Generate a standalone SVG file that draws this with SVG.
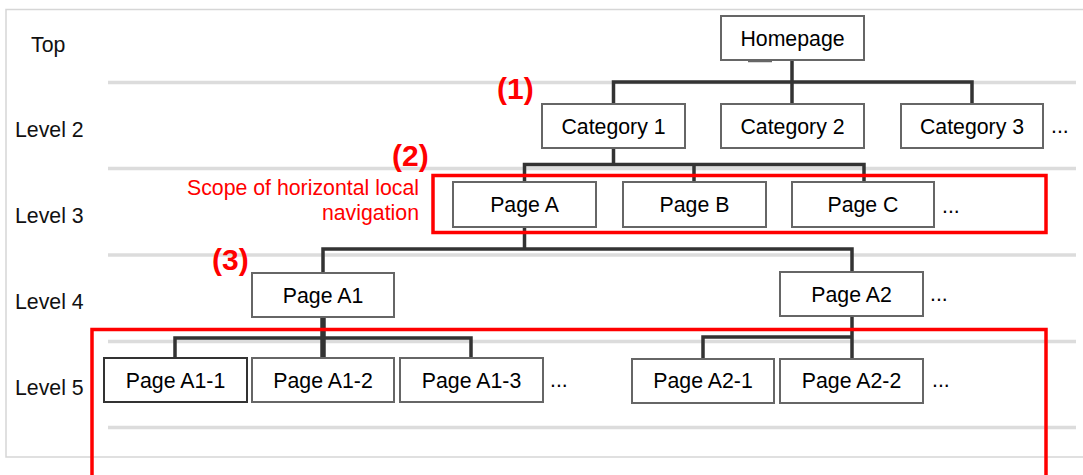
<svg xmlns="http://www.w3.org/2000/svg" width="1083" height="475" viewBox="0 0 1083 475">
<style>
text{font-family:"Liberation Sans",Arial,sans-serif;font-size:21.3px;fill:#000}
.node rect{fill:#fff;stroke:#666;stroke-width:2}
.node text{text-anchor:middle}
.lvl{fill:#111}
.red{fill:#ff0000}
.num{fill:#ff0000;font-weight:bold;font-size:30px}
.grid{stroke:#dcdcdc;stroke-width:3.5}
#connectors path{fill:none;stroke:#333;stroke-width:3.5}
.scope{fill:none;stroke:#ff0000;stroke-width:3.5}
</style>
<rect x="6" y="9.5" width="1082" height="447.5" fill="#fff" stroke="#d6d6d6" stroke-width="1.5"/>
<g id="gridlines">
<line class="grid" x1="108" y1="82.5" x2="1076" y2="82.5"/>
<line class="grid" x1="108" y1="168.5" x2="1076" y2="168.5"/>
<line class="grid" x1="108" y1="255" x2="1076" y2="255"/>
<line class="grid" x1="108" y1="341.5" x2="1076" y2="341.5"/>
<line class="grid" x1="108" y1="427.5" x2="1076" y2="427.5"/>
</g>
<g id="levels">
<text class="lvl" x="31" y="51.5">Top</text>
<text class="lvl" x="15" y="136.5">Level 2</text>
<text class="lvl" x="15" y="222.5">Level 3</text>
<text class="lvl" x="15" y="308.5">Level 4</text>
<text class="lvl" x="15" y="394.5">Level 5</text>
</g>
<g id="connectors">
<path d="M792 60V82M613.5 104V82H972V104M792 82V104"/>
<path d="M613.5 148V164.5M524.5 182V164.5H864V182M694 164.5V182"/>
<path d="M524.5 227V249M323 273V249H852V272"/>
<path d="M323 317V358" style="stroke-width:5.5"/>
<path d="M175 358V338H471V358"/>
<path d="M852 316V359M703 359V337H852"/>
<line x1="748" y1="61.5" x2="772" y2="61.5" stroke="#666" stroke-width="1.5"/>
</g>
<g id="homepage" class="node"><rect x="721" y="16" width="143" height="44"/><text x="792.5" y="45.5">Homepage</text></g>
<g id="category1" class="node"><rect x="542" y="104" width="143" height="44"/><text x="613.5" y="133.5">Category 1</text></g>
<g id="category2" class="node"><rect x="721" y="104" width="143" height="44"/><text x="792.5" y="133.5">Category 2</text></g>
<g id="category3" class="node"><rect x="901" y="104" width="142" height="44"/><text x="972" y="133.5">Category 3</text></g>
<text x="1051" y="133">...</text>
<g id="pageA" class="node"><rect x="453" y="182" width="143" height="45"/><text x="524.5" y="212">Page A</text></g>
<g id="pageB" class="node"><rect x="623" y="182" width="143" height="45"/><text x="694.5" y="212">Page B</text></g>
<g id="pageC" class="node"><rect x="792" y="182" width="142" height="45"/><text x="863" y="212">Page C</text></g>
<text x="942" y="213">...</text>
<g id="pageA1" class="node"><rect x="252" y="273" width="142" height="44"/><text x="323" y="302.5">Page A1</text></g>
<g id="pageA2" class="node"><rect x="780" y="272" width="143" height="44"/><text x="851.5" y="301.5">Page A2</text></g>
<text x="930" y="301">...</text>
<g id="pageA1-1" class="node"><rect x="104" y="358" width="143" height="44" style="stroke:#333"/><text x="175.5" y="387.5">Page A1-1</text></g>
<g id="pageA1-2" class="node"><rect x="252" y="358" width="142" height="44"/><text x="323" y="387.5">Page A1-2</text></g>
<g id="pageA1-3" class="node"><rect x="400" y="358" width="143" height="44"/><text x="471.5" y="387.5">Page A1-3</text></g>
<text x="550" y="387">...</text>
<g id="pageA2-1" class="node"><rect x="632" y="359" width="142" height="44"/><text x="703" y="388">Page A2-1</text></g>
<g id="pageA2-2" class="node"><rect x="780" y="359" width="143" height="44"/><text x="851.5" y="388">Page A2-2</text></g>
<text x="932" y="387">...</text>
<g id="annotations">
<rect class="scope" x="433" y="175.5" width="613" height="57"/>
<path class="scope" d="M92 480V329.5H1046V480"/>
<text class="red" x="419" y="194.5" text-anchor="end">Scope of horizontal local</text>
<text class="red" x="419" y="220" text-anchor="end">navigation</text>
<text class="num" x="497" y="99">(1)</text>
<text class="num" x="392" y="166">(2)</text>
<text class="num" x="212" y="270">(3)</text>
</g>
</svg>
